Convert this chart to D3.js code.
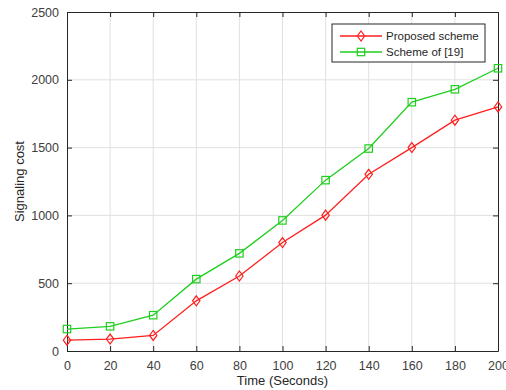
<!DOCTYPE html>
<html>
<head>
<meta charset="utf-8">
<script src="https://cdn.jsdelivr.net/npm/d3@7"></script>
<style>
  body { margin: 0; background: #fff; }
  text { font-family: "Liberation Sans", Arial, sans-serif; }
</style>
</head>
<body>
<svg id="chart" width="506" height="390"></svg>
<script>
const times = [0, 20, 40, 60, 80, 100, 120, 140, 160, 180, 200];
const proposed = [80, 88, 115, 370, 553, 800, 1002, 1303, 1500, 1702, 1800];
const scheme19 = [162, 182, 264, 530, 720, 963, 1260, 1493, 1835, 1930, 2085];
const xTicks = [0, 20, 40, 60, 80, 100, 120, 140, 160, 180, 200];
const yTicks = [0, 500, 1000, 1500, 2000, 2500];

const margin = { top: 12, right: 8, bottom: 39, left: 67 };
const width = 506, height = 390;
const innerWidth = width - margin.left - margin.right;
const innerHeight = height - margin.top - margin.bottom;

const svg = d3.select('#chart');
const g = svg.append('g').attr('transform', `translate(${margin.left},${margin.top})`);

const x = d3.scaleLinear().domain([0, 200]).range([0, innerWidth]);
const y = d3.scaleLinear().domain([0, 2500]).range([innerHeight, 0]);

// Grid
g.append('g').selectAll('line').data(xTicks.slice(1, -1)).enter().append('line')
  .attr('x1', d => x(d)).attr('x2', d => x(d))
  .attr('y1', 0).attr('y2', innerHeight)
  .style('stroke', '#e0e0e0').style('stroke-width', 1);
g.append('g').selectAll('line').data(yTicks.slice(1, -1)).enter().append('line')
  .attr('x1', 0).attr('x2', innerWidth)
  .attr('y1', d => y(d)).attr('y2', d => y(d))
  .style('stroke', '#e0e0e0').style('stroke-width', 1);

// Axes (ticks inside, MATLAB style)
const axisColor = '#262626';
const fmt = d3.format('d');
g.append('g')
  .attr('transform', `translate(0,${innerHeight})`)
  .call(d3.axisBottom(x).tickValues(xTicks).tickFormat(fmt).tickSizeInner(-5).tickSizeOuter(0).tickPadding(10));
g.append('g')
  .call(d3.axisLeft(y).tickValues(yTicks).tickFormat(fmt).tickSizeInner(-5).tickSizeOuter(0).tickPadding(8));
g.append('g')
  .call(d3.axisTop(x).tickValues(xTicks).tickSizeInner(-5).tickSizeOuter(0).tickFormat(''));
g.append('g')
  .attr('transform', `translate(${innerWidth},0)`)
  .call(d3.axisRight(y).tickValues(yTicks).tickSizeInner(-5).tickSizeOuter(0).tickFormat(''));

g.selectAll('.domain').style('stroke', axisColor);
g.selectAll('.tick line').style('stroke', axisColor);
g.selectAll('.tick text').style('fill', '#404040').style('font-size', '12.5px');

// Axis labels
svg.append('text')
  .attr('x', margin.left + innerWidth / 2).attr('y', 385)
  .attr('text-anchor', 'middle')
  .style('font-size', '13px').style('fill', axisColor)
  .text('Time (Seconds)');
svg.append('text')
  .attr('transform', `translate(24,${margin.top + innerHeight / 2}) rotate(-90)`)
  .attr('text-anchor', 'middle')
  .style('font-size', '13px').style('fill', axisColor)
  .text('Signaling cost');

// Series
const series = [
  { name: 'Proposed scheme', values: proposed, color: '#ff1f1f', marker: 'diamond' },
  { name: 'Scheme of [19]', values: scheme19, color: '#1fcf1f', marker: 'square' }
];

const line = d3.line().x((d, i) => x(times[i])).y(d => y(d));

function drawMarker(sel, type, color) {
  if (type === 'diamond') {
    sel.append('path').attr('d', 'M0,-5L3.7,0L0,5L-3.7,0Z');
  } else {
    sel.append('rect').attr('x', -3.7).attr('y', -3.7).attr('width', 7.4).attr('height', 7.4);
  }
  sel.selectAll('path,rect').style('fill', 'none').style('stroke', color).style('stroke-width', 1.2);
}

series.forEach(s => {
  g.append('path')
    .datum(s.values)
    .attr('d', line)
    .style('fill', 'none')
    .style('stroke', s.color)
    .style('stroke-width', 1.3);
  g.selectAll(null).data(s.values).enter().append('g')
    .attr('transform', (d, i) => `translate(${x(times[i])},${y(d)})`)
    .each(function() { drawMarker(d3.select(this), s.marker, s.color); });
});

// Legend
const legend = svg.append('g').attr('transform', 'translate(332,24)');
legend.append('rect')
  .attr('width', 153).attr('height', 38)
  .style('fill', '#fff').style('stroke', axisColor).style('stroke-width', 1);
series.forEach((s, i) => {
  const row = legend.append('g').attr('transform', `translate(0,${12 + i * 16})`);
  row.append('line').attr('x1', 8).attr('x2', 50).attr('y1', 0).attr('y2', 0)
    .style('stroke', s.color).style('stroke-width', 1.3);
  const m = row.append('g').attr('transform', 'translate(29,0)');
  drawMarker(m, s.marker, s.color);
  row.append('text').attr('x', 54).attr('y', 4)
    .style('font-size', '11.5px').style('fill', axisColor)
    .text(s.name);
});
</script>
</body>
</html>
